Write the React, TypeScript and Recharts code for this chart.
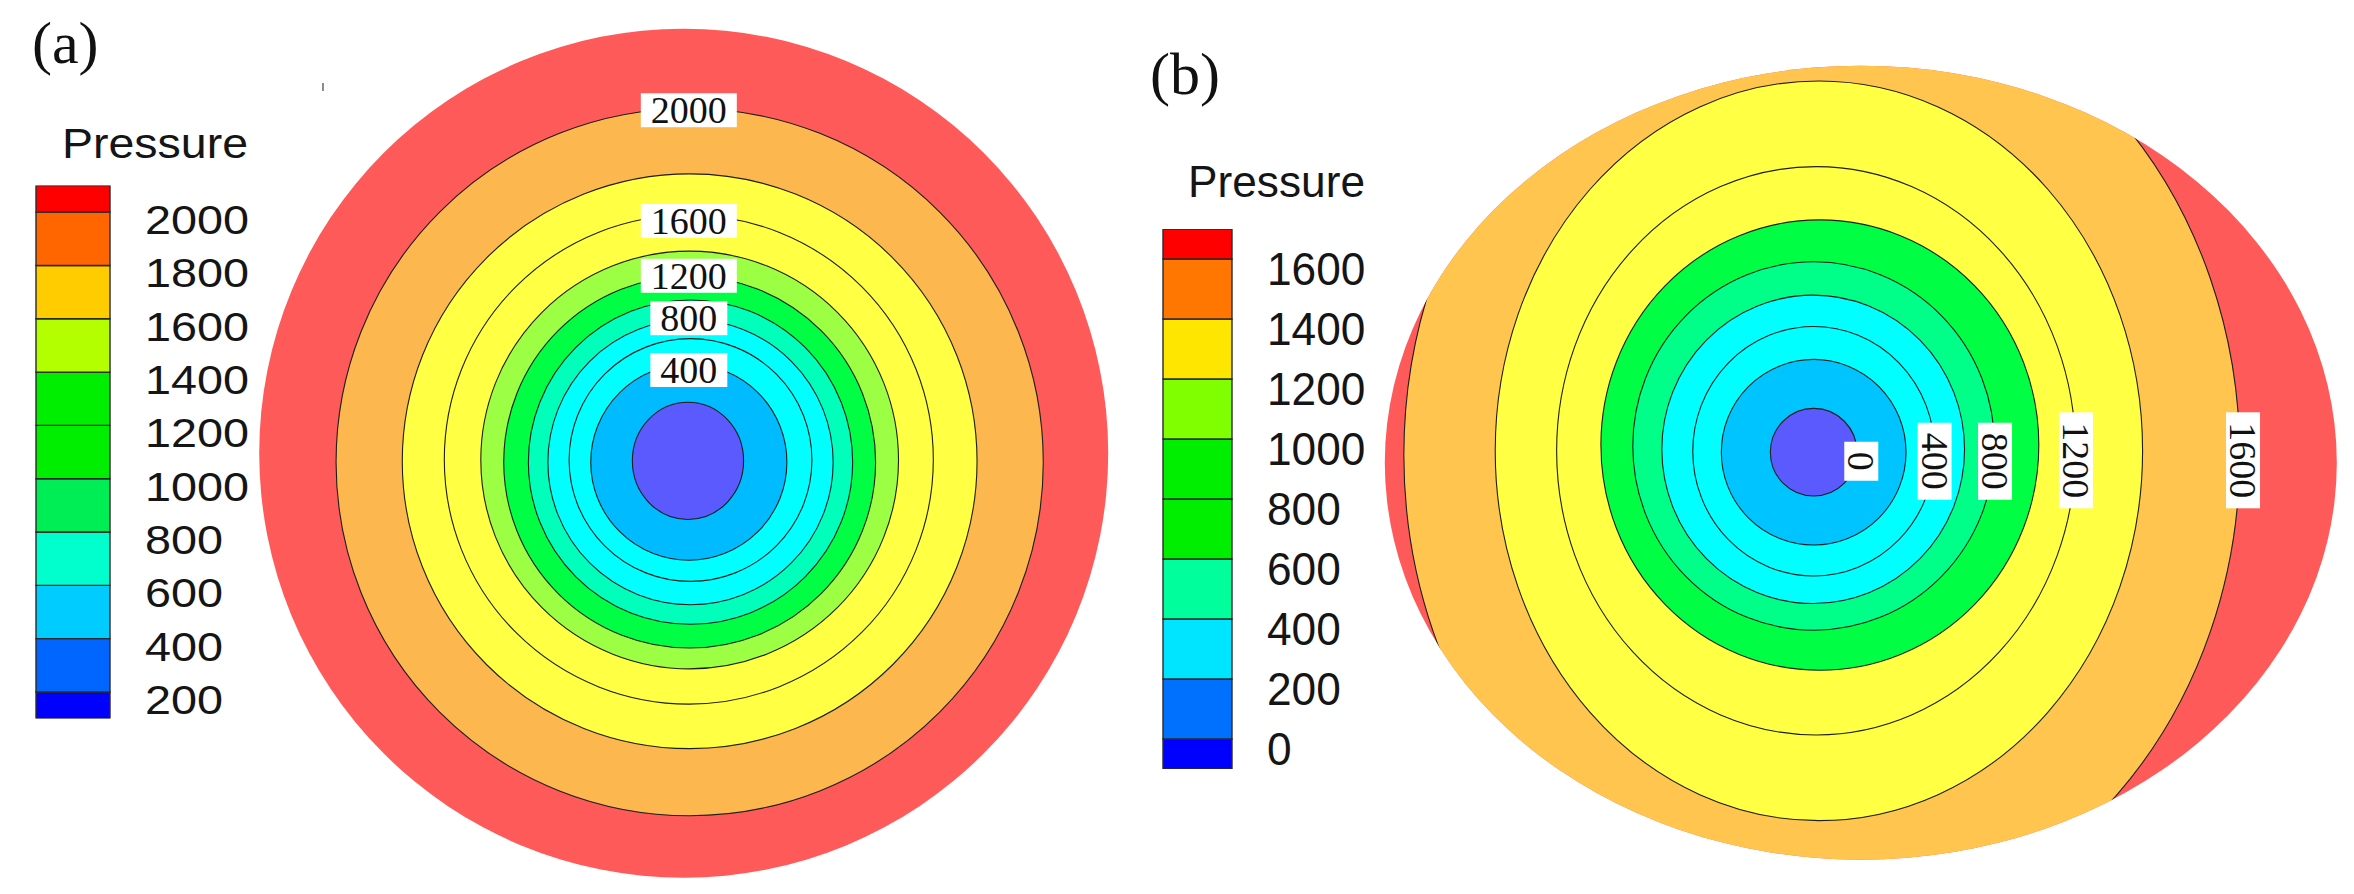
import React from "react";
import { ScatterChart, Scatter, XAxis, YAxis, BarChart, Bar } from "recharts";

// ---------- panel (a): contour levels, outer to inner (domain radius = 1)
const levelsA = [2000, 1800, 1600, 1400, 1200, 1000, 800, 600, 400, 200];
const centerXA = [0.014, 0.014, 0.012, 0.014, 0.014, 0.016, 0.016, 0.016, 0.012, 0.01];
const centerYA = [-0.021, -0.019, -0.015, -0.016, -0.021, -0.021, -0.021, -0.016, -0.021, -0.018];
const radiusXA = [0.833, 0.677, 0.576, 0.492, 0.438, 0.382, 0.336, 0.286, 0.231, 0.131];
const radiusYA = [0.833, 0.677, 0.576, 0.492, 0.438, 0.382, 0.336, 0.286, 0.231, 0.138];

const labelTextA = ["2000", "1600", "1200", "800", "400"];
const labelXA = [0.012, 0.012, 0.012, 0.012, 0.012];
const labelYA = [0.808, 0.547, 0.418, 0.318, 0.196];

// ---------- panel (b): contour levels, outer to inner (domain half-width = 1)
const levelsB = [1600, 1400, 1200, 1000, 800, 600, 400, 200, 0];
const centerXB = [-0.082, -0.088, -0.094, -0.086, -0.099, -0.1, -0.099, -0.099, -0.099];
const centerYB = [0.016, 0.025, 0.025, 0.037, 0.035, 0.028, 0.024, 0.022, 0.022];
const radiusXB = [0.878, 0.68, 0.545, 0.46, 0.38, 0.318, 0.254, 0.194, 0.091];
const radiusYB = [1.008, 0.777, 0.597, 0.473, 0.387, 0.324, 0.262, 0.195, 0.092];
const domainRyB = 0.834;

const labelTextB = ["0", "400", "800", "1200", "1600"];
const labelXB = [0.001, 0.155, 0.282, 0.452, 0.803];
const labelYB = [0.003, 0.003, 0.003, 0.005, 0.005];

// ---------- colour legends (bottom to top)
const legendTicksA = [200, 400, 600, 800, 1000, 1200, 1400, 1600, 1800, 2000];
const legendSpansA = [200, 200, 200, 200, 200, 200, 200, 200, 200, 200, 100];
const legendTicksB = [0, 200, 400, 600, 800, 1000, 1200, 1400, 1600];
const legendSpansB = [-100, 200, 200, 200, 200, 200, 200, 200, 200, 100];

// styles
const fillA = ["#FCB74F", "#FFFF44", "#FFFF44", "#9CFF44", "#00FF44", "#00FFBB", "#00FFFF", "#00FFFF", "#00BBFF", "#5A5AFF"];
const fillB = ["#FFC54F", "#FFFF44", "#FFFF44", "#00FF44", "#00FF88", "#00FFFF", "#00FFFF", "#00C4FF", "#5A5AFF"];
const baseFill = "#FF5A5A";
const legendColorsA = ["#0000FF", "#0066FF", "#00CCFF", "#00FFCC", "#00EE55", "#00EE00", "#00EE00", "#B3FF00", "#FFCC00", "#FF6600", "#FF0000"];
const legendColorsB = ["#0000FF", "#0070FF", "#00E5FF", "#00FF9C", "#00EE00", "#00EE00", "#80FF00", "#FFE600", "#FF7700", "#FF0000"];

const SANS = "'Liberation Sans', Arial, Helvetica, sans-serif";
const SERIF = "'Liberation Serif', 'Times New Roman', serif";

const ringsA = levelsA.map((level, i) => ({
  level, x: centerXA[i], y: centerYA[i], rx: radiusXA[i], ry: radiusYA[i], fill: fillA[i],
}));
const ringsB = levelsB.map((level, i) => ({
  level, x: centerXB[i], y: centerYB[i], rx: radiusXB[i], ry: radiusYB[i], fill: fillB[i],
}));
const labelsA = labelTextA.map((text, i) => ({ text, x: labelXA[i], y: labelYA[i] }));
const labelsB = labelTextB.map((text, i) => ({ text, x: labelXB[i], y: labelYB[i] }));

function domainShape(k: number, clipId?: string) {
  return (p: any) => {
    const d = p.payload;
    return (
      <g>
        {clipId && (
          <defs>
            <clipPath id={clipId}>
              <ellipse cx={p.cx} cy={p.cy} rx={d.rx * k} ry={d.ry * k} />
            </clipPath>
          </defs>
        )}
        <ellipse cx={p.cx} cy={p.cy} rx={d.rx * k} ry={d.ry * k} fill={baseFill} />
      </g>
    );
  };
}

function ringShape(k: number, clipId?: string) {
  return (p: any) => {
    const d = p.payload;
    return (
      <ellipse
        cx={p.cx}
        cy={p.cy}
        rx={d.rx * k}
        ry={d.ry * k}
        fill={d.fill}
        stroke="#1e1e1e"
        strokeWidth={1.1}
        clipPath={clipId ? `url(#${clipId})` : undefined}
      />
    );
  };
}

function labelShape(rotated: boolean) {
  return (p: any) => {
    const t: string = p.payload.text;
    const along = t.length * 19 + 20;
    const across = 34;
    const w = rotated ? across : along;
    const h = rotated ? along : across;
    return (
      <g>
        <rect x={p.cx - w / 2} y={p.cy - h / 2} width={w} height={h} fill="#ffffff" />
        <text
          x={p.cx}
          y={p.cy + 13}
          textAnchor="middle"
          fontFamily={SERIF}
          fontSize={38}
          fill="#111"
          transform={rotated ? `rotate(90 ${p.cx} ${p.cy})` : undefined}
        >
          {t}
        </text>
      </g>
    );
  };
}

type PanelProps = {
  k: number;
  ox: number;
  oy: number;
  xDom: [number, number];
  yDom: [number, number];
  base: any[];
  rings: any[];
  labels: any[];
  rotated: boolean;
  clipId?: string;
};

function ContourPanel({ k, ox, oy, xDom, yDom, base, rings, labels, rotated, clipId }: PanelProps) {
  const width = (xDom[1] - xDom[0]) * k;
  const height = (yDom[1] - yDom[0]) * k;
  return (
    <div style={{ position: "absolute", left: ox + xDom[0] * k, top: oy - yDom[1] * k }}>
      <ScatterChart width={width} height={height} margin={{ top: 0, right: 0, bottom: 0, left: 0 }}>
        <XAxis type="number" dataKey="x" domain={xDom} allowDataOverflow hide />
        <YAxis type="number" dataKey="y" domain={yDom} allowDataOverflow hide />
        <Scatter data={base} shape={domainShape(k, clipId)} isAnimationActive={false} />
        <Scatter data={rings} shape={ringShape(k, clipId)} isAnimationActive={false} />
        <Scatter data={labels} shape={labelShape(rotated)} isAnimationActive={false} />
      </ScatterChart>
    </div>
  );
}

function legendTick(fontSize: number, digitW: number, drop: number) {
  return (p: any) => {
    const s = String(p.payload.value);
    return (
      <text
        x={p.x}
        y={p.y + drop}
        fontSize={fontSize}
        fontFamily={SANS}
        fill="#151515"
        textLength={s.length * digitW}
        lengthAdjust="spacingAndGlyphs"
      >
        {s}
      </text>
    );
  };
}

type LegendProps = {
  left: number;
  top: number;
  bottom: number;
  barLeft: number;
  barW: number;
  domain: [number, number];
  ticks: number[];
  spans: number[];
  colors: string[];
  tick: any;
  offset?: "sign" | "none";
};

function Legend({ left, top, bottom, barLeft, barW, domain, ticks, spans, colors, tick, offset }: LegendProps) {
  const row: Record<string, any> = { name: "p" };
  spans.forEach((v, i) => (row[`s${i}`] = v));
  const width = 420;
  return (
    <div style={{ position: "absolute", left, top: 0 }}>
      <BarChart
        width={width}
        height={894}
        data={[row]}
        margin={{ top, bottom: 894 - bottom, left: barLeft - left, right: 0 }}
        barCategoryGap={0}
        stackOffset={offset ?? "none"}
      >
        <XAxis dataKey="name" hide />
        <YAxis
          orientation="right"
          type="number"
          domain={domain}
          allowDataOverflow
          ticks={ticks}
          interval={0}
          width={width - (barLeft - left) - barW}
          axisLine={false}
          tickLine={false}
          tickSize={0}
          tickMargin={35}
          tick={tick}
        />
        {spans.map((_, i) => (
          <Bar
            key={i}
            dataKey={`s${i}`}
            stackId="c"
            fill={colors[i]}
            stroke="#2a2a2a"
            strokeWidth={1.4}
            isAnimationActive={false}
          />
        ))}
      </BarChart>
    </div>
  );
}

export default function App() {
  return (
    <div style={{ position: "absolute", left: 0, top: 0, width: 2354, height: 894, overflow: "hidden", background: "#fff" }}>
      <ContourPanel
        k={424.5}
        ox={684}
        oy={453}
        xDom={[-1.05, 1.05]}
        yDom={[-1.07, 1.07]}
        base={[{ x: 0, y: 0, rx: 1, ry: 1 }]}
        rings={ringsA}
        labels={labelsA}
        rotated={false}
      />
      <ContourPanel
        k={476}
        ox={1861}
        oy={462.5}
        xDom={[-1.05, 1.05]}
        yDom={[-0.93, 0.93]}
        base={[{ x: 0, y: 0, rx: 1, ry: domainRyB }]}
        rings={ringsB}
        labels={labelsB}
        rotated={true}
        clipId="domainB"
      />
      <Legend
        left={0}
        top={185.5}
        bottom={718.6}
        barLeft={36}
        barW={74}
        domain={[100, 2100]}
        ticks={legendTicksA}
        spans={legendSpansA}
        colors={legendColorsA}
        tick={legendTick(40, 26, 22)}
      />
      <Legend
        left={1100}
        top={229}
        bottom={769}
        barLeft={1163}
        barW={69}
        domain={[-100, 1700]}
        ticks={legendTicksB}
        spans={legendSpansB}
        colors={legendColorsB}
        tick={legendTick(47, 24.6, 26)}
        offset="sign"
      />
      <svg width={2354} height={894} style={{ position: "absolute", left: 0, top: 0, pointerEvents: "none" }}>
        <text x={32} y={63} fontFamily={SERIF} fontSize={60} fill="#111">(a)</text>
        <text x={1150} y={94} fontFamily={SERIF} fontSize={60} fill="#111">(b)</text>
        <text x={62} y={158} fontFamily={SANS} fontSize={43} fill="#151515" textLength={186} lengthAdjust="spacingAndGlyphs">Pressure</text>
        <text x={1188} y={197} fontFamily={SANS} fontSize={45} fill="#151515" textLength={177} lengthAdjust="spacingAndGlyphs">Pressure</text>
        <line x1={323} y1={83} x2={323} y2={91} stroke="#666" strokeWidth={1.5} />
      </svg>
    </div>
  );
}
